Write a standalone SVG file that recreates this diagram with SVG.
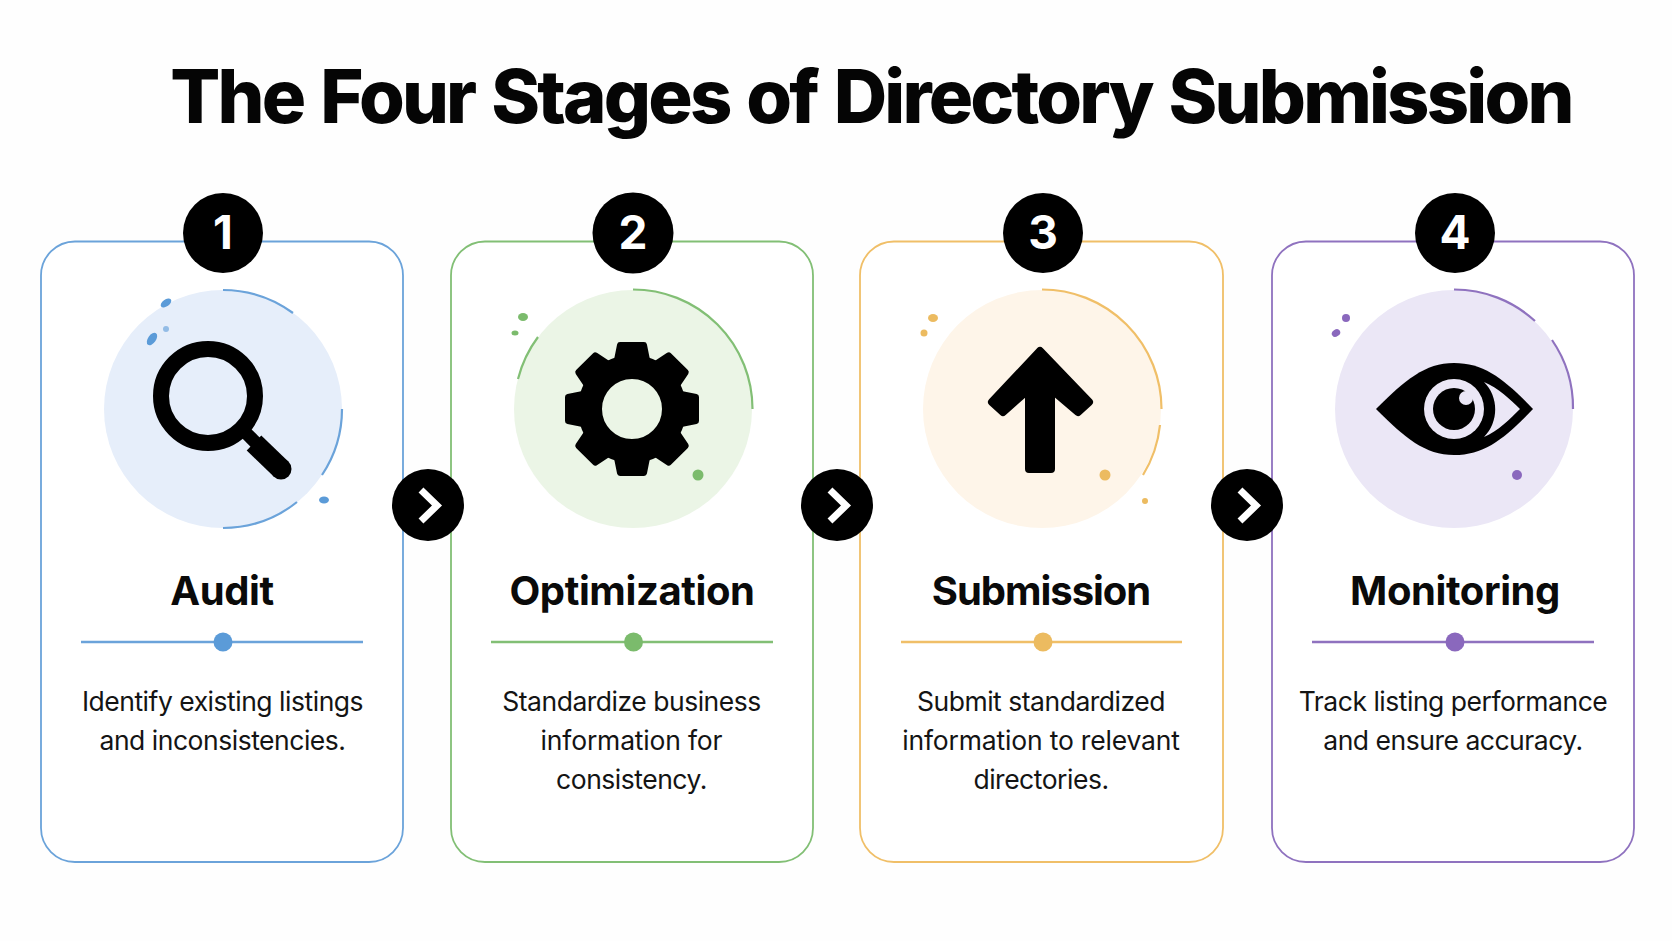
<svg xmlns="http://www.w3.org/2000/svg" width="1672" height="941" viewBox="0 0 1672 941">
<style>
text{font-family:"Inter","Liberation Sans",sans-serif;text-anchor:middle}
.title{font-size:74px;font-weight:800;fill:#050505;letter-spacing:-2.8px;word-spacing:3.4px}
.name{font-size:40px;font-weight:700;fill:#0a0a0a;letter-spacing:-.4px}
.body{font-size:26.5px;font-weight:400;fill:#141414;letter-spacing:-.48px}
.wide{letter-spacing:-.18px}
.tight{letter-spacing:-1.04px}
.num{font-size:46px;font-weight:700;fill:#fff}
.card{fill:#fff;stroke-width:1.8}
.arc{fill:none;stroke-width:2.2}
.div{stroke-width:2.4}
.blue .card,.blue .arc,.blue .div{stroke:#6ba3da}.blue .dot{fill:#5b9bd8}.blue .disc{fill:#e6eefa}
.green .card,.green .arc,.green .div{stroke:#82bf75}.green .dot{fill:#7bbb6c}.green .disc{fill:#ebf5e6}
.orange .card,.orange .arc,.orange .div{stroke:#f0bf68}.orange .dot{fill:#ecbb60}.orange .disc{fill:#fef5e9}
.purple .card,.purple .arc,.purple .div{stroke:#8f72bf}.purple .dot{fill:#8a68bd}.purple .disc{fill:#ebe7f6}
.chev{fill:none;stroke:#fff;stroke-width:7;stroke-linejoin:miter}
</style>
<defs>
<path id="tooth" d="M-12 -64 L12 -64 L16 -44 L-16 -44 Z" fill="#000" stroke="#000" stroke-width="6" stroke-linejoin="round"/>
</defs>
<rect width="1672" height="941" fill="#fefefe"/>
<text class="title" x="871" y="123">The Four Stages of Directory Submission</text>

<g id="node-audit" class="blue">
<rect class="card" x="41" y="241.500" width="362" height="620.500" rx="34"/>
<circle class="disc" cx="223" cy="409" r="119"/>
<path class="arc" d="M223 290A119 119 0 0 1 293 313"/>
<path class="arc" d="M342 409A119 119 0 0 1 322 475"/>
<path class="arc" d="M297 502A119 119 0 0 1 223 528"/>
<ellipse class="dot" cx="166" cy="303" rx="6" ry="3.500" transform="rotate(-35 166 303)"/>
<ellipse class="dot" cx="152" cy="339" rx="7" ry="4" transform="rotate(-55 152 339)"/>
<circle class="dot" cx="166" cy="329" r="3" opacity=".6"/>
<ellipse class="dot" cx="324" cy="500" rx="5" ry="3.500"/>
<circle cx="208" cy="396" r="47" fill="none" stroke="#000" stroke-width="16"/>
<path d="M245 432L262 449" stroke="#000" stroke-width="13" fill="none"/>
<path d="M254 443L281 469" stroke="#000" stroke-width="21" fill="none"/>
<circle cx="281" cy="469" r="10.500" fill="#000"/>
<circle cx="223" cy="233" r="40" fill="#000"/>
<text class="num" x="223" y="249">1</text>
<text class="name" x="222" y="605">Audit</text>
<line class="div" x1="81" y1="642" x2="363" y2="642"/>
<circle class="dot" cx="223" cy="642" r="9.500"/>
<text class="body" x="222.500" y="711">Identify existing listings</text>
<text class="body" x="222.500" y="750">and inconsistencies.</text>
</g>

<g id="node-optimization" class="green">
<rect class="card" x="451" y="241.500" width="362" height="620.500" rx="34"/>
<circle class="disc" cx="633" cy="409" r="119"/>
<path class="arc" d="M633 289.500A119.500 119.500 0 0 1 752.500 409"/>
<path class="arc" d="M538 337A119 119 0 0 0 518 379"/>
<ellipse class="dot" cx="523" cy="317" rx="5" ry="4"/>
<ellipse class="dot" cx="515" cy="333" rx="3.500" ry="2.500"/>
<circle class="dot" cx="698" cy="475" r="5.500"/>
<circle cx="632" cy="409" r="42" fill="none" stroke="#000" stroke-width="24"/>
<g transform="translate(632 409)">
<use href="#tooth"/><use href="#tooth" transform="rotate(45)"/><use href="#tooth" transform="rotate(90)"/><use href="#tooth" transform="rotate(135)"/>
<use href="#tooth" transform="rotate(180)"/><use href="#tooth" transform="rotate(225)"/><use href="#tooth" transform="rotate(270)"/><use href="#tooth" transform="rotate(315)"/>
</g>
<circle cx="633" cy="233" r="40.500" fill="#000"/>
<text class="num" x="633" y="249">2</text>
<text class="name" x="632" y="605">Optimization</text>
<line class="div" x1="491" y1="642" x2="773" y2="642"/>
<circle class="dot" cx="633.500" cy="642" r="9.500"/>
<text class="body" x="631.500" y="711">Standardize business</text>
<text class="body wide" x="631.500" y="750">information for</text>
<text class="body" x="631.500" y="789">consistency.</text>
</g>

<g id="node-submission" class="orange">
<rect class="card" x="860" y="241.500" width="363" height="620.500" rx="34"/>
<circle class="disc" cx="1042" cy="409" r="119"/>
<path class="arc" d="M1042 289.500A119.500 119.500 0 0 1 1161.500 409"/>
<path class="arc" d="M1160 425A119 119 0 0 1 1143 475"/>
<ellipse class="dot" cx="933" cy="318" rx="5" ry="4"/>
<circle class="dot" cx="924" cy="333" r="3.500"/>
<circle class="dot" cx="1105" cy="475" r="5.500"/>
<circle class="dot" cx="1145" cy="501" r="3"/>
<path d="M1040 351L992 402L1003 412L1029 389V469H1051V389L1078 412L1089 402Z" fill="#000" stroke="#000" stroke-width="8" stroke-linejoin="round"/>
<circle cx="1043" cy="233" r="40" fill="#000"/>
<text class="num" x="1043" y="249">3</text>
<text class="name tight" x="1041" y="605">Submission</text>
<line class="div" x1="901" y1="642" x2="1182" y2="642"/>
<circle class="dot" cx="1043" cy="642" r="9.500"/>
<text class="body" x="1041" y="711">Submit standardized</text>
<text class="body wide" x="1041" y="750">information to relevant</text>
<text class="body" x="1041" y="789">directories.</text>
</g>

<g id="node-monitoring" class="purple">
<rect class="card" x="1272" y="241.500" width="362" height="620.500" rx="34"/>
<circle class="disc" cx="1454" cy="409" r="119"/>
<path class="arc" d="M1454 289.500A119.500 119.500 0 0 1 1535 321"/>
<path class="arc" d="M1552 340A119.500 119.500 0 0 1 1573 409"/>
<circle class="dot" cx="1346" cy="318" r="4"/>
<ellipse class="dot" cx="1336" cy="333" rx="4.500" ry="3.500" transform="rotate(-35 1336 333)"/>
<circle class="dot" cx="1517" cy="475" r="5"/>
<path d="M1376 409C1405 380 1425 363 1454 363C1485 363 1505 380 1533 409C1505 438 1485 455 1454 455C1425 455 1405 438 1376 409Z" fill="#000"/>
<path d="M1484 382C1498 388 1510 399 1520 409C1510 419 1498 431 1484 437C1499 422 1499 397 1484 382Z" fill="#ebe7f6"/>
<circle cx="1454" cy="409" r="30" fill="#ebe7f6"/>
<circle cx="1454" cy="409" r="21" fill="#000"/>
<circle cx="1466" cy="398" r="7" fill="#ebe7f6"/>
<circle cx="1455" cy="233" r="40" fill="#000"/>
<text class="num" x="1455" y="249">4</text>
<text class="name" x="1455" y="605">Monitoring</text>
<line class="div" x1="1312" y1="642" x2="1594" y2="642"/>
<circle class="dot" cx="1455" cy="642" r="9.500"/>
<text class="body" x="1453" y="711">Track listing performance</text>
<text class="body" x="1453" y="750">and ensure accuracy.</text>
</g>

<g id="connectors">
<g><circle cx="428" cy="505" r="36" fill="#000"/><path class="chev" d="M421 490L437 505.500L421 521"/></g>
<g><circle cx="837" cy="505" r="36" fill="#000"/><path class="chev" d="M830 490L846 505.500L830 521"/></g>
<g><circle cx="1247" cy="505" r="36" fill="#000"/><path class="chev" d="M1240 490L1256 505.500L1240 521"/></g>
</g>
</svg>
